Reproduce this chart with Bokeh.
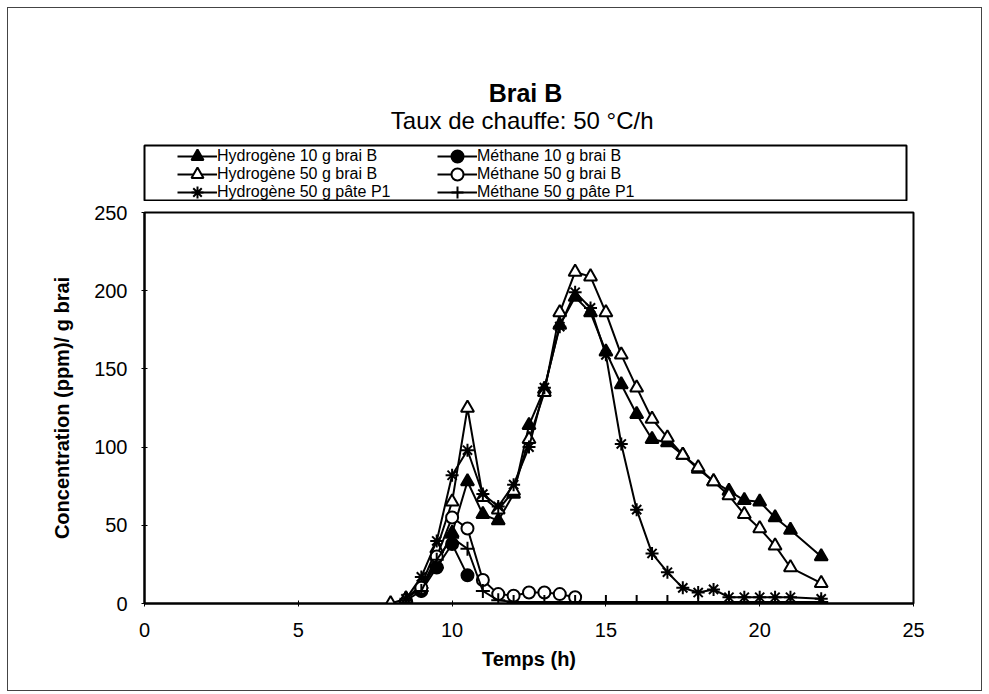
from bokeh.plotting import figure
from bokeh.layouts import column
from bokeh.models import (Range1d, Legend, LegendItem, Title, FixedTicker,
                          ColumnDataSource)
from bokeh.embed import file_html
from bokeh.resources import INLINE

FONT = "Liberation Sans"

# ---- data ----
title_text = "Brai B"
subtitle_text = "Taux de chauffe:  50 °C/h"
x_label = "Temps (h)"
y_label = "Concentration (ppm)/ g brai"
x_ticks = [0, 5, 10, 15, 20, 25]
y_ticks = [0, 50, 100, 150, 200, 250]

t_h10 = [8.5, 9, 9.5, 10, 10.5, 11, 11.5, 12, 12.5, 13, 13.5, 14, 14.5, 15, 15.5,
         16, 16.5, 17, 17.5, 18, 18.5, 19, 19.5, 20, 20.5, 21, 22]
v_h10 = [3, 10, 25, 45, 78, 57, 53, 70, 114, 137, 178, 196, 186, 161, 140,
         121, 105, 103, 95, 86, 78, 72, 66, 65, 55, 47, 30]

t_h50 = [8, 8.5, 9, 9.5, 10, 10.5, 11, 11.5, 12, 12.5, 13, 13.5, 14, 14.5, 15,
         15.5, 16, 16.5, 17, 17.5, 18, 18.5, 19, 19.5, 20, 20.5, 21, 22]
v_h50 = [0, 3, 12, 35, 65, 125, 68, 60, 72, 105, 135, 186, 212, 209, 186,
         159, 138, 118, 106, 95, 87, 78, 69, 57, 48, 37, 23, 13]

t_hp1 = [8.5, 9, 9.5, 10, 10.5, 11, 11.5, 12, 12.5, 13, 13.5, 14, 14.5, 15, 15.5,
         16, 16.5, 17, 17.5, 18, 18.5, 19, 19.5, 20, 20.5, 21, 22]
v_hp1 = [3, 17, 40, 82, 98, 70, 62, 76, 100, 138, 177, 199, 189, 159, 102,
         60, 32, 20, 10, 7, 9, 4, 4, 4, 4, 4, 3]

t_m10 = [9, 9.5, 10, 10.5]
v_m10 = [8, 23, 38, 18]

t_m50 = [9, 9.5, 10, 10.5, 11, 11.5, 12, 12.5, 13, 13.5, 14]
v_m50 = [10, 30, 55, 48, 15, 6, 5, 7, 7, 6, 4]

t_mp1 = [8.5, 9, 9.5, 10, 10.5, 11, 11.5, 12, 13, 14, 15, 16, 17, 18, 19,
         19.5, 20, 20.5, 21, 22]
v_mp1 = [2, 8, 28, 42, 35, 8, 2, 1, 1, 1, 1, 1, 1, 1, 1,
         1, 1, 1, 1, 1]

labels = ["Hydrogène 10 g brai B", "Hydrogène 50 g brai B", "Hydrogène 50 g pâte P1",
          "Méthane 10 g brai B", "Méthane 50 g brai B", "Méthane 50 g pâte P1"]

series = [
    (labels[0], t_h10, v_h10, "triangle", "black", 13),
    (labels[1], t_h50, v_h50, "triangle", "white", 13),
    (labels[2], t_hp1, v_hp1, "asterisk", "black", 13),
    (labels[3], t_m10, v_m10, "circle", "black", 12),
    (labels[4], t_m50, v_m50, "circle", "white", 12),
    (labels[5], t_mp1, v_mp1, "cross", "black", 14),
]

# ---- header figure: titles above, its framed area is the legend box ----
head = figure(frame_width=762, frame_height=56,
              min_border_left=135, min_border_right=76,
              min_border_top=137, min_border_bottom=0,
              x_range=Range1d(0, 1), y_range=Range1d(0, 1),
              x_axis_type=None, y_axis_type=None,
              output_backend="svg", toolbar_location=None, title=None)
head.grid.visible = False
head.outline_line_color = "black"
head.outline_line_width = 2
head.border_fill_color = "white"

# ---- main chart ----
p = figure(frame_width=769, frame_height=391,
           min_border_left=136, min_border_right=68,
           min_border_top=11, min_border_bottom=87,
           x_range=Range1d(0, 25), y_range=Range1d(0, 250),
           output_backend="svg", toolbar_location=None, title=None)
p.grid.visible = False
p.outline_line_color = "black"
p.outline_line_width = 2
p.background_fill_color = "white"
p.border_fill_color = "white"

for ax in (p.xaxis[0], p.yaxis[0]):
    ax.axis_line_color = "black"
    ax.axis_line_width = 2
    ax.major_tick_in = 3
    ax.major_tick_out = 3
    ax.major_tick_line_color = "black"
    ax.minor_tick_line_color = None
    ax.major_label_text_font = FONT
    ax.major_label_text_font_size = "20px"
    ax.major_label_text_color = "black"
    ax.axis_label_text_font = FONT
    ax.axis_label_text_font_size = "20px"
    ax.axis_label_text_font_style = "bold"
    ax.axis_label_text_color = "black"

p.xaxis.ticker = FixedTicker(ticks=x_ticks)
p.yaxis.ticker = FixedTicker(ticks=y_ticks)
p.xaxis.axis_label = x_label
p.yaxis.axis_label = y_label
p.xaxis.major_label_standoff = 16
p.yaxis.major_label_standoff = 14
p.xaxis.axis_label_standoff = 8
p.yaxis.axis_label_standoff = 18

items = []
for label, t, v, marker, fill, size in series:
    src = ColumnDataSource(data=dict(t=t, v=v))
    kw_line = dict(line_color="black", line_width=2)
    kw_mark = dict(marker=marker, size=size, line_color="black",
                   fill_color=fill, line_width=2)
    p.line("t", "v", source=src, **kw_line)
    p.scatter("t", "v", source=src, **kw_mark)
    # same series in the header, hidden: only used to draw the legend keys
    hl = head.line("t", "v", source=src, visible=False, **kw_line)
    hs = head.scatter("t", "v", source=src, visible=False, **kw_mark)
    items.append(LegendItem(label=label, renderers=[hl, hs]))

# one legend row per pair (Hydrogène | Méthane), rows 18 px apart
row_y = [30, 12, -6]
for k in range(3):
    lg = Legend(items=[items[k], items[k + 3]], ncols=2,
                location=(33, row_y[k]),
                label_text_font=FONT, label_text_font_size="16px",
                label_text_color="black",
                glyph_width=40, glyph_height=30, label_height=17,
                label_width=220, label_standoff=0, spacing=0,
                padding=0, margin=0,
                border_line_alpha=0, background_fill_alpha=0)
    head.add_layout(lg, "center")

head.add_layout(Title(text=subtitle_text, text_font=FONT, text_font_size="24px",
                      text_font_style="normal", align="center",
                      text_color="black", standoff=24), "above")
head.add_layout(Title(text=title_text, text_font=FONT, text_font_size="25px",
                      text_font_style="bold", align="center",
                      text_color="black", standoff=-28), "above")

layout = column(head, p, spacing=0)
layout.styles = {"margin": "8px 0 0 8px", "outline": "1px solid #444",
                 "outline-offset": "0px"}

open("out.html", "w").write(file_html(layout, INLINE))
